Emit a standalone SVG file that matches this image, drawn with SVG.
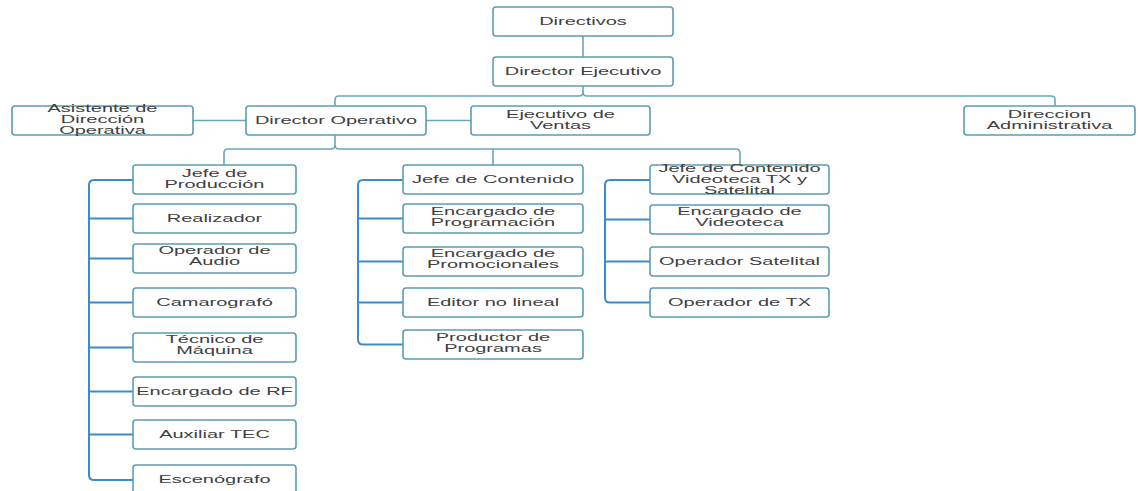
<svg xmlns="http://www.w3.org/2000/svg" width="1138" height="491" viewBox="0 0 1138 491">
  <style>
    .box { fill: #ffffff; stroke: #5b9db3; stroke-width: 1.6; }
    .t { font-family: "Liberation Sans", Arial, sans-serif; font-size: 11.5px; fill: #404040; text-anchor: middle; }
    .top { fill: none; stroke: #6aa5b8; stroke-width: 1.6; }
    .col { fill: none; stroke: #3a8dcc; stroke-width: 2; }
  </style>
  <rect width="1138" height="491" fill="#ffffff"/>

  <!-- connectors -->
  <g id="connectors">
    <path class="top" d="M583,36 V57"/>
    <path class="top" d="M583,86 V92 Q583,96 587,96 H1051 Q1055,96 1055,100 V106"/>
    <path class="top" d="M583,92 Q583,96 579,96 H339 Q335,96 335,100 V106"/>
    <path class="top" d="M193,120.5 H246"/>
    <path class="top" d="M426,120.5 H471"/>
    <path class="top" d="M335,135 V145 Q335,149 331,149 H228 Q224,149 224,153 V165"/>
    <path class="top" d="M335,145 Q335,149 339,149 H736 Q740,149 740,153 V165"/>
    <path class="top" d="M493,149 V165"/>

    <!-- Producción column -->
    <path class="col" d="M133,180 H94 Q89,180 89,185 V475 Q89,480 94,480 H133"/>
    <path class="col" d="M89,218.5 H133 M89,258.5 H133 M89,302.5 H133 M89,347.5 H133 M89,391.5 H133 M89,434.5 H133"/>

    <!-- Contenido column -->
    <path class="col" d="M403,180 H363 Q358,180 358,185 V339.5 Q358,344.5 363,344.5 H403"/>
    <path class="col" d="M358,218.5 H403 M358,261.5 H403 M358,302.5 H403"/>

    <!-- Videoteca column -->
    <path class="col" d="M650,180 H610 Q605,180 605,185 V297.5 Q605,302.5 610,302.5 H650"/>
    <path class="col" d="M605,219.5 H650 M605,261.5 H650"/>
  </g>

  <!-- top levels -->
  <g id="directivos">
    <rect class="box" x="493" y="7" width="180" height="29" rx="3"/>
    <text class="t" transform="translate(583 0) scale(1.74 1)" y="25.5">Directivos</text>
  </g>
  <g id="director-ejecutivo">
    <rect class="box" x="493" y="57" width="180" height="29" rx="3"/>
    <text class="t" transform="translate(583 0) scale(1.74 1)" y="75.5">Director Ejecutivo</text>
  </g>
  <g id="asistente">
    <rect class="box" x="12" y="106" width="181" height="29" rx="3"/>
    <text class="t" transform="translate(102.5 0) scale(1.74 1)"><tspan x="0" y="112.5">Asistente de</tspan><tspan x="0" y="123.5">Dirección</tspan><tspan x="0" y="134.5">Operativa</tspan></text>
  </g>
  <g id="director-operativo">
    <rect class="box" x="246" y="106" width="180" height="29" rx="3"/>
    <text class="t" transform="translate(336 0) scale(1.74 1)" y="124.5">Director Operativo</text>
  </g>
  <g id="ejecutivo-ventas">
    <rect class="box" x="471" y="106" width="179" height="29" rx="3"/>
    <text class="t" transform="translate(560.5 0) scale(1.74 1)"><tspan x="0" y="118.5">Ejecutivo de</tspan><tspan x="0" y="129.5">Ventas</tspan></text>
  </g>
  <g id="direccion-administrativa">
    <rect class="box" x="964" y="106" width="171" height="29" rx="3"/>
    <text class="t" transform="translate(1049.5 0) scale(1.74 1)"><tspan x="0" y="118">Direccion</tspan><tspan x="0" y="129">Administrativa</tspan></text>
  </g>

  <!-- Producción -->
  <g id="jefe-produccion">
    <rect class="box" x="133" y="165" width="163" height="29" rx="3"/>
    <text class="t" transform="translate(214.5 0) scale(1.74 1)"><tspan x="0" y="177">Jefe de</tspan><tspan x="0" y="188">Producción</tspan></text>
  </g>
  <g id="realizador">
    <rect class="box" x="133" y="204" width="163" height="29" rx="3"/>
    <text class="t" transform="translate(214.5 0) scale(1.74 1)" y="222.5">Realizador</text>
  </g>
  <g id="operador-audio">
    <rect class="box" x="133" y="244" width="163" height="29" rx="3"/>
    <text class="t" transform="translate(214.5 0) scale(1.74 1)"><tspan x="0" y="254">Operador de</tspan><tspan x="0" y="265">Audio</tspan></text>
  </g>
  <g id="camarografo">
    <rect class="box" x="133" y="288" width="163" height="29" rx="3"/>
    <text class="t" transform="translate(214.5 0) scale(1.74 1)" y="306.5">Camarografó</text>
  </g>
  <g id="tecnico-maquina">
    <rect class="box" x="133" y="333" width="163" height="29" rx="3"/>
    <text class="t" transform="translate(214.5 0) scale(1.74 1)"><tspan x="0" y="343">Técnico de</tspan><tspan x="0" y="354">Máquina</tspan></text>
  </g>
  <g id="encargado-rf">
    <rect class="box" x="133" y="377" width="163" height="29" rx="3"/>
    <text class="t" transform="translate(214.5 0) scale(1.74 1)" y="395.5">Encargado de RF</text>
  </g>
  <g id="auxiliar-tec">
    <rect class="box" x="133" y="420" width="163" height="29" rx="3"/>
    <text class="t" transform="translate(214.5 0) scale(1.74 1)" y="438.5">Auxiliar TEC</text>
  </g>
  <g id="escenografo">
    <rect class="box" x="133" y="465" width="163" height="29" rx="3"/>
    <text class="t" transform="translate(214.5 0) scale(1.74 1)" y="483">Escenógrafo</text>
  </g>

  <!-- Contenido -->
  <g id="jefe-contenido">
    <rect class="box" x="403" y="165" width="180" height="29" rx="3"/>
    <text class="t" transform="translate(493 0) scale(1.74 1)" y="183.5">Jefe de Contenido</text>
  </g>
  <g id="encargado-programacion">
    <rect class="box" x="403" y="204" width="180" height="29" rx="3"/>
    <text class="t" transform="translate(493 0) scale(1.74 1)"><tspan x="0" y="215">Encargado de</tspan><tspan x="0" y="226">Programación</tspan></text>
  </g>
  <g id="encargado-promocionales">
    <rect class="box" x="403" y="247" width="180" height="29" rx="3"/>
    <text class="t" transform="translate(493 0) scale(1.74 1)"><tspan x="0" y="257.5">Encargado de</tspan><tspan x="0" y="268.5">Promocionales</tspan></text>
  </g>
  <g id="editor-no-lineal">
    <rect class="box" x="403" y="288" width="180" height="29" rx="3"/>
    <text class="t" transform="translate(493 0) scale(1.74 1)" y="306.5">Editor no lineal</text>
  </g>
  <g id="productor-programas">
    <rect class="box" x="403" y="330" width="180" height="29" rx="3"/>
    <text class="t" transform="translate(493 0) scale(1.74 1)"><tspan x="0" y="341">Productor de</tspan><tspan x="0" y="352">Programas</tspan></text>
  </g>

  <!-- Videoteca -->
  <g id="jefe-videoteca">
    <rect class="box" x="650" y="165" width="179" height="29" rx="3"/>
    <text class="t" transform="translate(739.5 0) scale(1.74 1)"><tspan x="0" y="172">Jefe de Contenido</tspan><tspan x="0" y="183">Videoteca TX y</tspan><tspan x="0" y="194">Satelital</tspan></text>
  </g>
  <g id="encargado-videoteca">
    <rect class="box" x="650" y="205" width="179" height="29" rx="3"/>
    <text class="t" transform="translate(739.5 0) scale(1.74 1)"><tspan x="0" y="215.5">Encargado de</tspan><tspan x="0" y="226.5">Videoteca</tspan></text>
  </g>
  <g id="operador-satelital">
    <rect class="box" x="650" y="247" width="179" height="29" rx="3"/>
    <text class="t" transform="translate(739.5 0) scale(1.74 1)" y="265.5">Operador Satelital</text>
  </g>
  <g id="operador-tx">
    <rect class="box" x="650" y="288" width="179" height="29" rx="3"/>
    <text class="t" transform="translate(739.5 0) scale(1.74 1)" y="306.5">Operador de TX</text>
  </g>
</svg>
